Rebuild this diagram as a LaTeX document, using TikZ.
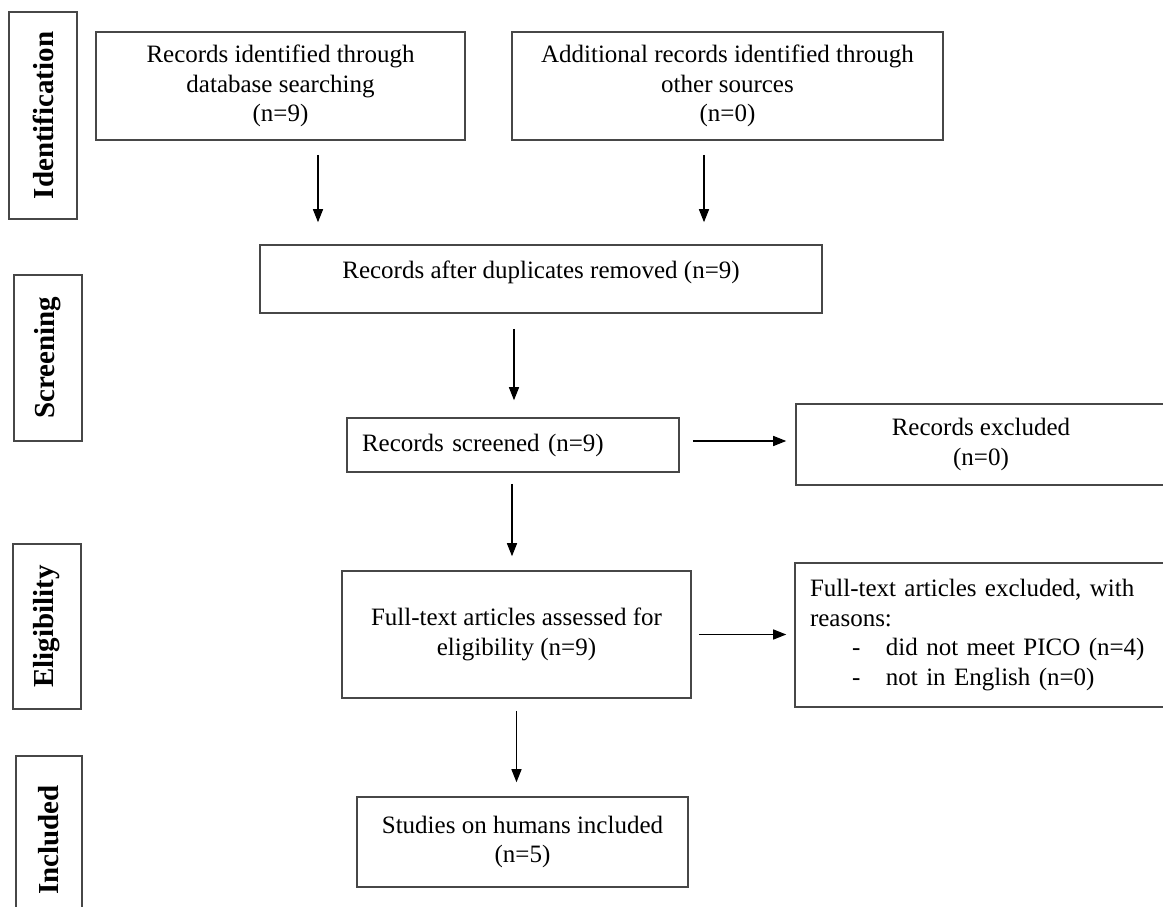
\documentclass[tikz,border=0pt]{standalone}
\usepackage{fontspec}
\setmainfont{Liberation Serif}
\usetikzlibrary{arrows.meta}
\begin{document}
\begin{tikzpicture}[x=1pt,y=-1pt,
  box/.style={draw=black!72, line width=1.6pt, inner sep=0pt, align=center,
    font=\fontsize{25}{29.5}\selectfont},
  lab/.style={draw=black!72, line width=1.6pt, inner sep=0pt, rotate=90,
    font=\fontsize{29}{34}\selectfont\bfseries},
  arr/.style={-{Triangle[length=13pt,width=10pt]}, line width=1.3pt}]
\clip (0,0) rectangle (1163,907);
\useasboundingbox (0,0) rectangle (1163,907);
\fill[white] (0,0) rectangle (1163,907);

% stage labels
\node[lab, minimum width=207pt, minimum height=68pt] (L1) at (43,115.5) {Identification};
\node[lab, minimum width=166pt, minimum height=68pt] (L2) at (48,358) {Screening};
\node[lab, minimum width=165pt, minimum height=68pt] (L3) at (47,626.5) {Eligibility};
\node[lab, minimum width=168pt, minimum height=66pt] (L4) at (49,840) {Included};

% boxes
\node[box, minimum width=369pt, minimum height=108pt] (b1) at (280.5,86)
  {Records identified through\\database searching\\(n=9)};
\node[box, minimum width=431pt, minimum height=108pt] (b2) at (727.5,86)
  {Additional records identified through\\other sources\\(n=0)};
\node[box, minimum width=562pt, minimum height=68pt] (b3) at (541,279)
  {\raisebox{18pt}{Records after duplicates removed (n=9)}};
\node[box, minimum width=332pt, minimum height=54pt, inner xsep=15pt,
  text width=302pt, align=left] (b4) at (513,445) {Records screened (n=9)};
\node[box, minimum width=370pt, minimum height=81pt] (e1) at (981,444.5)
  {Records excluded\\(n=0)};
\node[box, minimum width=349pt, minimum height=127pt] (b5) at (516.5,634.5)
  {Full-text articles assessed for\\eligibility (n=9)};
\node[box, minimum width=371pt, minimum height=144pt, inner xsep=15pt,
  text width=341pt, align=left] (e2) at (980.5,635)
  {Full-text articles excluded, with\\reasons:\\
   \makebox[76pt][l]{\hspace*{42pt}-}did not meet PICO (n=4)\\
   \makebox[76pt][l]{\hspace*{42pt}-}not in English (n=0)};
\node[box, minimum width=331pt, minimum height=90pt] (b6) at (522.5,842)
  {Studies on humans included\\(n=5)};

% connectors
\draw[arr, shorten <=14pt, shorten >=22pt] ([xshift=37.5pt]b1.south) -- ([xshift=37.5pt]b1.south |- b3.north);
\draw[arr, shorten <=14pt, shorten >=22pt] ([xshift=-23.5pt]b2.south) -- ([xshift=-23.5pt]b2.south |- b3.north);
\draw[arr, shorten <=15pt, shorten >=17pt] ([xshift=-27pt]b3.south) -- ([xshift=-27pt]b3.south |- b4.north);
\draw[arr, shorten <=11pt, shorten >=14pt] ([xshift=-1pt]b4.south) -- ([xshift=-1pt]b4.south |- b5.north);
\draw[arr, shorten <=12pt, shorten >=14pt] (b5.south) -- (b5.south |- b6.north);
\draw[arr, shorten <=13pt, shorten >=9pt] ([yshift=4pt]b4.east) -- ([yshift=4pt]b4.east -| e1.west);
\draw[arr, shorten <=7pt, shorten >=8pt] (b5.east) -- (b5.east -| e2.west);
\end{tikzpicture}
\end{document}
